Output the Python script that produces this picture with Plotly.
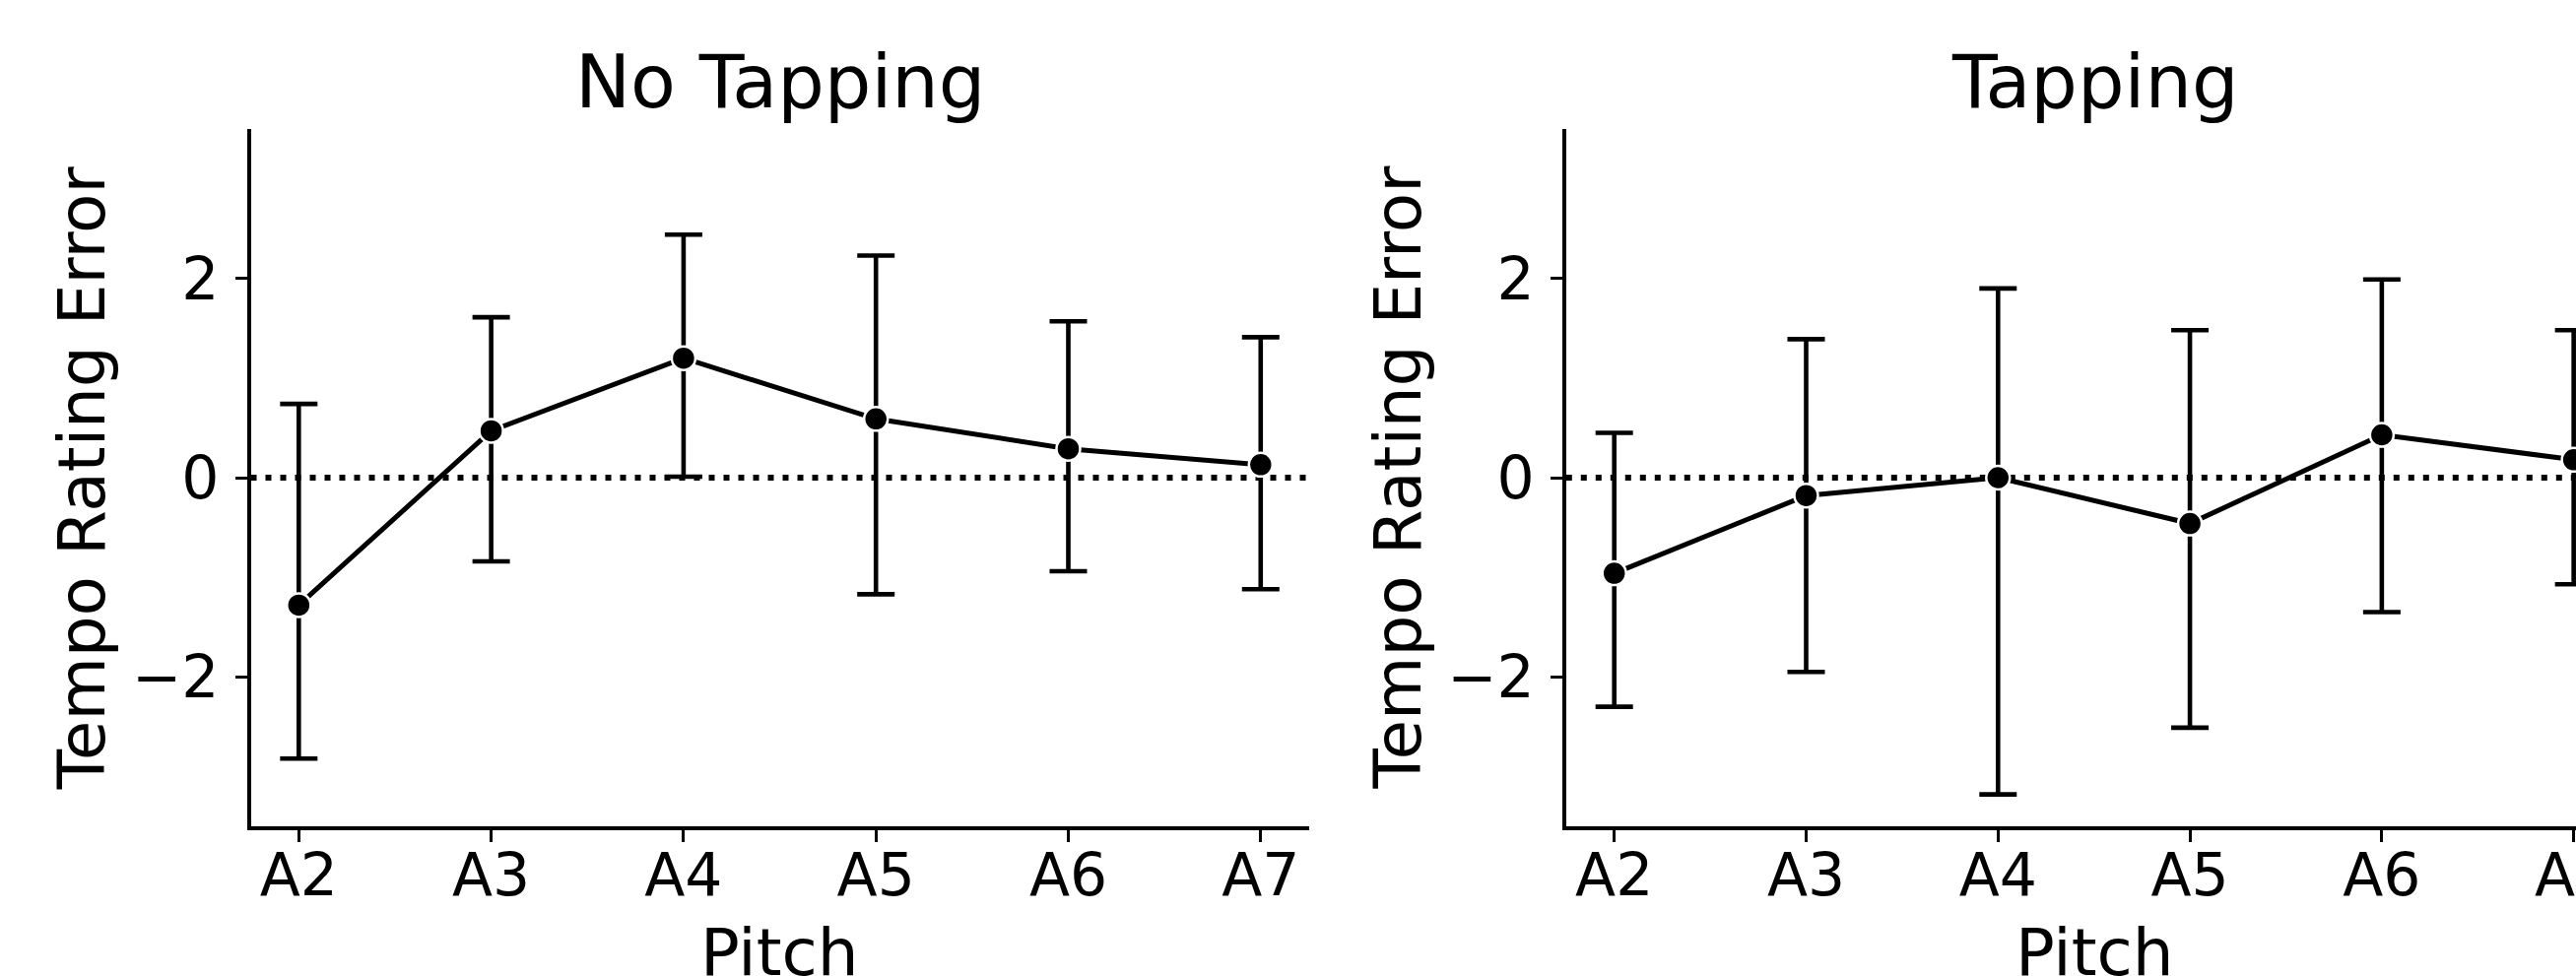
import plotly.graph_objects as go

pitches = ["A2", "A3", "A4", "A5", "A6", "A7"]

no_tap_mean = [-1.28, 0.47, 1.20, 0.59, 0.29, 0.13]
no_tap_upper = [0.74, 1.61, 2.44, 2.23, 1.57, 1.41]
no_tap_lower = [-2.82, -0.84, 0.01, -1.17, -0.94, -1.12]

tap_mean = [-0.96, -0.18, 0.00, -0.46, 0.43, 0.18]
tap_upper = [0.45, 1.39, 1.90, 1.48, 1.99, 1.48]
tap_lower = [-2.30, -1.95, -3.18, -2.51, -1.35, -1.07]

y_ticks = [-2, 0, 2]
y_ticktext = ["\u22122", "0", "2"]

W, H = 2615, 991
FONT = "DejaVu Sans"

fig = go.Figure()


def add_panel(mean, upper, lower, xa, ya):
    plus = [u - m for u, m in zip(upper, mean)]
    minus = [m - l for m, l in zip(mean, lower)]
    fig.add_trace(go.Scatter(
        x=pitches, y=mean, mode="lines+markers",
        xaxis=xa, yaxis=ya,
        line=dict(color="black", width=5),
        marker=dict(color="black", size=24, line=dict(color="white", width=2.5)),
        error_y=dict(type="data", symmetric=False, array=plus, arrayminus=minus,
                     color="black", thickness=4.6, width=19),
        showlegend=False, cliponaxis=True,
    ))


add_panel(no_tap_mean, no_tap_upper, no_tap_lower, "x", "y")
add_panel(tap_mean, tap_upper, tap_lower, "x2", "y2")

ydom = [1 - 839 / H, 1 - 131 / H]
axis_common = dict(showline=True, linewidth=4, linecolor="black", ticks="outside",
                   ticklen=12, tickwidth=2.5, tickcolor="black", showgrid=False,
                   zeroline=False, automargin=False,
                   tickfont=dict(family=FONT, size=60, color="black"))

fig.update_layout(
    template="none",
    width=W, height=H, margin=dict(l=0, r=0, t=0, b=0, pad=0), autosize=False,
    paper_bgcolor="white", plot_bgcolor="white",
    xaxis=dict(domain=[254.5 / W, 1328.6 / W], range=[-0.25, 5.25], type="category",
               anchor="y", ticklabelstandoff=-18, **axis_common),
    yaxis=dict(domain=ydom, range=[-3.5, 3.5], tickvals=y_ticks, ticktext=y_ticktext,
               anchor="x", ticklabelstandoff=4, **axis_common),
    xaxis2=dict(domain=[1589.8 / W, 1.0], range=[-0.251, 5.012], type="category",
                anchor="y2", ticklabelstandoff=-18, **axis_common),
    yaxis2=dict(domain=ydom, range=[-3.5, 3.5], tickvals=y_ticks, ticktext=y_ticktext,
                anchor="x2", ticklabelstandoff=4, **axis_common),
)

for xr in ["x", "x2"]:
    yr = "y" if xr == "x" else "y2"
    fig.add_shape(type="line", xref=xr + " domain", yref=yr, x0=0, x1=1, y0=0, y1=0,
                  line=dict(color="black", width=6, dash="6px,9px"), layer="below")

left_c = (254.5 + 1328.6) / 2
right_c = 1589.8 + (1328.6 - 254.5) / 2
titles = ["No Tapping", "Tapping"]
for cx, t in zip([left_c, right_c], titles):
    fig.add_annotation(text=t, x=cx / W, y=1 - 83 / H, xref="paper", yref="paper",
                       showarrow=False, xanchor="center", yanchor="middle",
                       font=dict(family=FONT, size=75, color="black"))
    fig.add_annotation(text="Pitch", x=cx / W, y=1 - 967 / H, xref="paper", yref="paper",
                       showarrow=False, xanchor="center", yanchor="middle",
                       font=dict(family=FONT, size=66, color="black"))

for lx in [83.3, 83.3 + (1589.8 - 254.5)]:
    fig.add_annotation(text="Tempo Rating Error", x=lx / W, y=1 - 485 / H,
                       xref="paper", yref="paper", showarrow=False, textangle=-90,
                       xanchor="center", yanchor="middle",
                       font=dict(family=FONT, size=66, color="black"))

post = ("document.documentElement.style.margin='0';"
        "document.documentElement.style.overflow='hidden';"
        "document.body.style.margin='0';document.body.style.padding='0';"
        "document.body.style.overflow='hidden';"
        "var gd=document.getElementById('{plot_id}');"
        "Plotly.relayout(gd,{width:2615,height:991});")

fig.write_html("out.html", post_script=post, config={"displayModeBar": False})
